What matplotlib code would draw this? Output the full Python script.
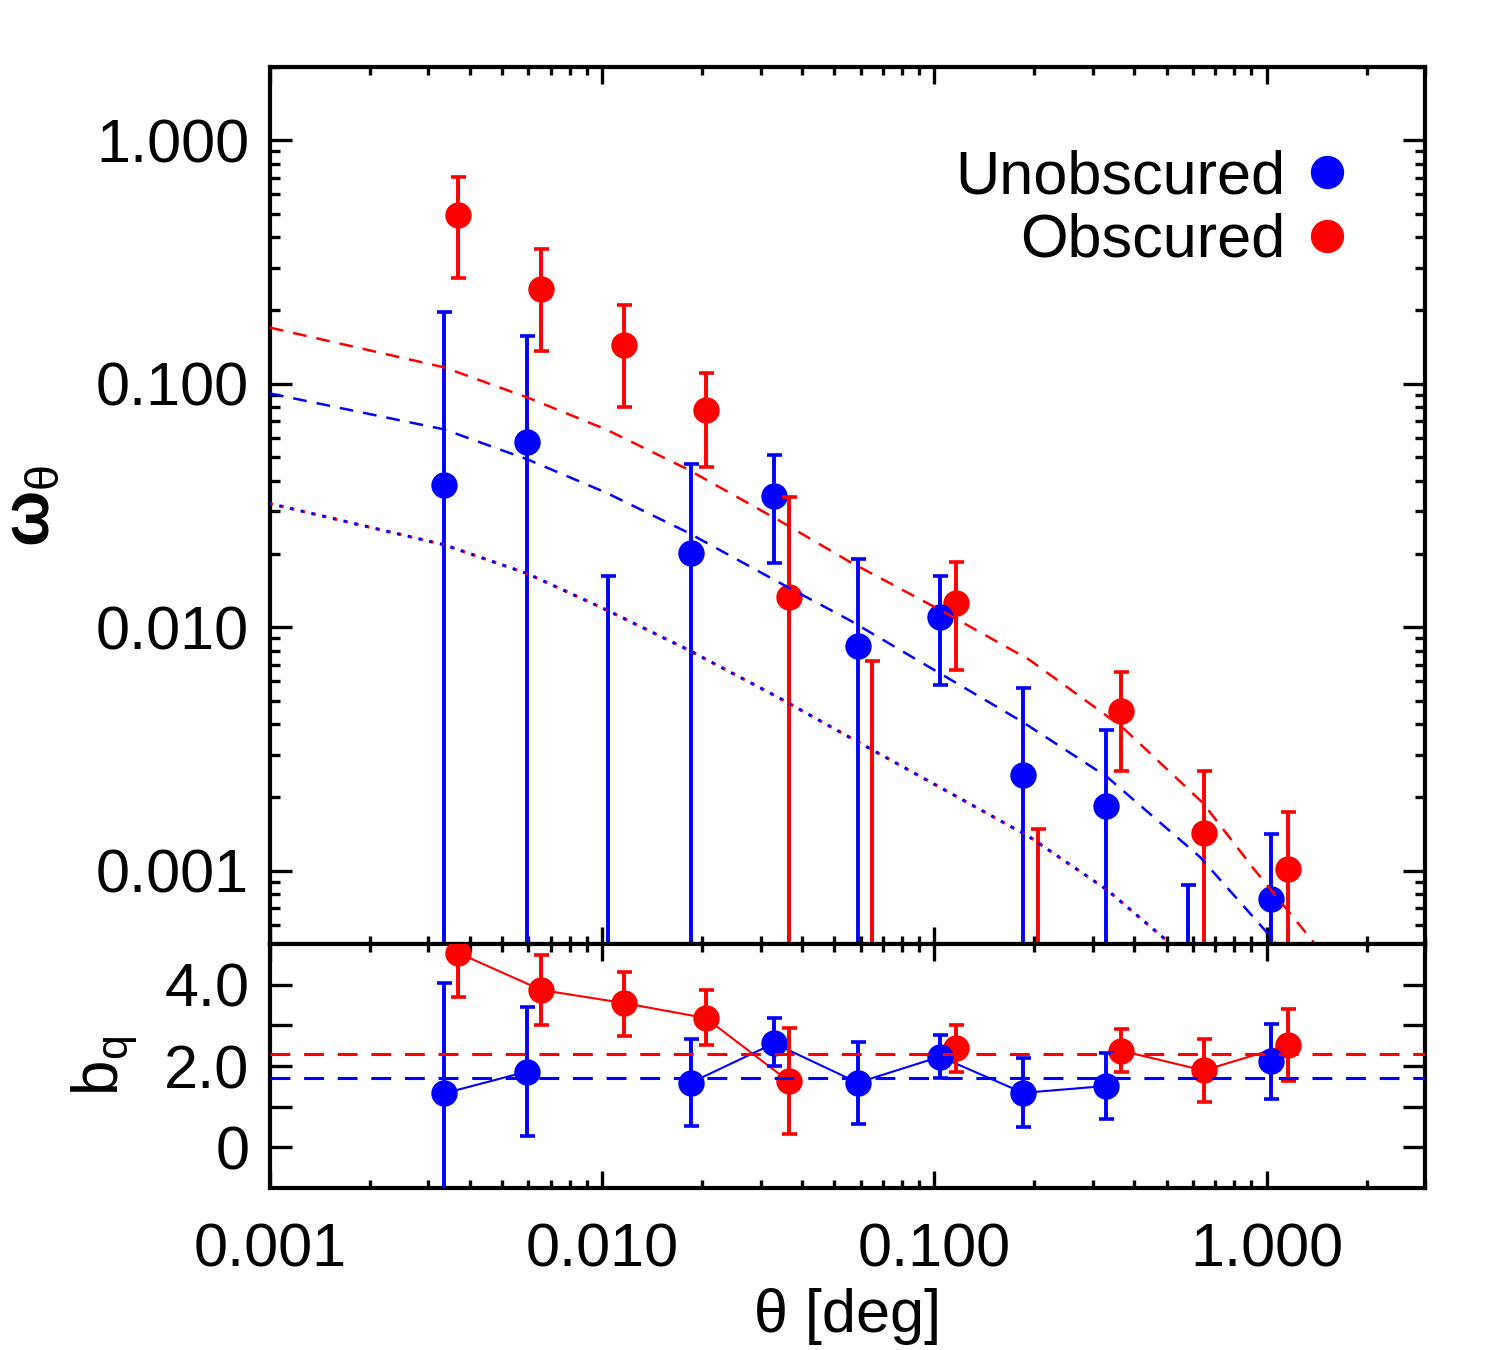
import numpy as np
import matplotlib
matplotlib.use('Agg')
import matplotlib.pyplot as plt
from matplotlib.lines import Line2D
from matplotlib.ticker import FixedLocator, FixedFormatter, LogLocator, NullFormatter

plt.rcParams['font.family'] = ['Liberation Sans', 'DejaVu Sans']
plt.rcParams['mathtext.fontset'] = 'custom'
plt.rcParams['mathtext.rm'] = 'Liberation Sans'
plt.rcParams['mathtext.it'] = 'Liberation Sans'
plt.rcParams['mathtext.bf'] = 'Liberation Sans:bold'

OFF = 1e-5  # lower error below the plotted range
nan = np.nan

# angular bins [deg]
theta_unobs = [0.00335, 0.00592, 0.0104, 0.0185, 0.0329, 0.0588, 0.104, 0.185, 0.329, 0.580, 1.03]
theta_obs = [0.00369, 0.00656, 0.0116, 0.0205, 0.0364, 0.0647, 0.116, 0.205, 0.364, 0.647, 1.16]

# w(theta), nan where the bin is negative (only the error bar shows)
w_unobs = [0.0385, 0.0579, nan, 0.0201, 0.0347, 0.00841, 0.0110, 0.00248, 0.00185, nan, 0.000767]
w_unobs_lo = [OFF, OFF, OFF, OFF, 0.0184, OFF, 0.00578, OFF, OFF, OFF, OFF]
w_unobs_hi = [0.197, 0.157, 0.0162, 0.0470, 0.0508, 0.0191, 0.0163, 0.00564, 0.00380, 0.000877, 0.00142]

w_obs = [0.491, 0.246, 0.144, 0.0783, 0.0133, nan, 0.0126, nan, 0.00455, 0.00143, 0.00102]
w_obs_lo = [0.273, 0.136, 0.080, 0.0454, OFF, OFF, 0.00666, OFF, 0.00258, OFF, OFF]
w_obs_hi = [0.709, 0.356, 0.210, 0.111, 0.0343, 0.00730, 0.0185, 0.00149, 0.00653, 0.00258, 0.00174]

# bias per bin
b_unobs = [1.33, 1.86, nan, 1.59, 2.56, 1.59, 2.23, 1.34, 1.51, nan, 2.13]
b_unobs_lo = [-1.5, 0.29, nan, 0.53, 1.99, 0.57, 1.71, 0.49, 0.70, nan, 1.19]
b_unobs_hi = [4.05, 3.45, nan, 2.66, 3.18, 2.59, 2.77, 2.19, 2.32, nan, 3.03]

b_obs = [4.78, 3.87, 3.55, 3.18, 1.63, nan, 2.44, nan, 2.38, 1.89, 2.52]
b_obs_lo = [3.69, 3.00, 2.74, 2.52, 0.34, nan, 1.86, nan, 1.86, 1.12, 1.63]
b_obs_hi = [5.8, 4.73, 4.31, 3.86, 2.93, nan, 3.01, nan, 2.91, 2.66, 3.41]

b_fit_unobs = 1.70
b_fit_obs = 2.30

# model curves
dm_theta = [0.001, 0.00335, 0.00596, 0.01028, 0.0181, 0.0340, 0.0552, 0.193, 0.331, 0.498, 0.70]
dm_w = [0.0322, 0.0218, 0.0166, 0.0118, 0.00809, 0.00514, 0.00355, 0.00138, 0.000835, 0.00052, 0.00033]

fit_unobs_theta = [0.001, 0.00335, 0.00596, 0.01028, 0.0181, 0.0340, 0.0555, 0.184, 0.331, 0.630, 1.05, 1.3]
fit_unobs_w = [0.0912, 0.0649, 0.0489, 0.0357, 0.0245, 0.0153, 0.0107, 0.00409, 0.00243, 0.00114, 0.00052, 0.0003]

fit_obs_theta = [0.001, 0.00335, 0.00596, 0.01028, 0.0181, 0.0340, 0.0555, 0.105, 0.193, 0.367, 0.643, 0.920, 1.39, 1.7]
fit_obs_w = [0.170, 0.1167, 0.0878, 0.0649, 0.0445, 0.0275, 0.0186, 0.0117, 0.00736, 0.00390, 0.00190, 0.00101, 0.000506, 0.0003]

BLUE = '#0000ff'
RED = '#ff0000'
fs = 44

fig = plt.figure(figsize=(15, 13.5), dpi=100)
ax = fig.add_axes([0.18, 0.3007, 0.77, 0.6497])
axb = fig.add_axes([0.18, 0.12, 0.77, 0.1807], sharex=ax)


def bars(a, x, lo, hi, color):
    x = np.array(x); lo = np.array(lo); hi = np.array(hi)
    ok = ~np.isnan(hi)
    a.errorbar(x[ok], hi[ok], yerr=[hi[ok] - lo[ok], np.zeros(ok.sum())], fmt='none',
               ecolor=color, elinewidth=2.8, capsize=5.4, capthick=2.6, zorder=5)


# --- top panel
for th, w, lo, hi, c, z in [(theta_obs, w_obs, w_obs_lo, w_obs_hi, RED, 3),
                            (theta_unobs, w_unobs, w_unobs_lo, w_unobs_hi, BLUE, 4)]:
    ax.plot(th, w, 'o', color=c, ms=19, mec='none', zorder=z)
    bars(ax, th, lo, hi, c)

# dark matter model, red and blue drawn on top of each other
ax.plot(dm_theta, dm_w, color=RED, lw=2.2, ls=(0, (1, 2.6)), zorder=6)
ax.plot(dm_theta, dm_w, color=BLUE, lw=2.2, ls=(0.5, (1, 2.6)), zorder=6)
ax.plot(fit_unobs_theta, fit_unobs_w, color=BLUE, lw=1.8, ls=(0, (5.5, 4)), zorder=6)
ax.plot(fit_obs_theta, fit_obs_w, color=RED, lw=1.8, ls=(0, (5.5, 4)), zorder=6)

ax.set_xscale('log')
ax.set_yscale('log')
ax.set_xlim(0.001, 3.0)
ax.set_ylim(5e-4, 2.0)
ax.yaxis.set_major_locator(FixedLocator([0.001, 0.01, 0.1, 1.0]))
ax.yaxis.set_major_formatter(FixedFormatter(['0.001', '0.010', '0.100', '1.000']))
ax.yaxis.set_minor_locator(LogLocator(base=10, subs=np.arange(2, 10), numticks=20))
ax.yaxis.set_minor_formatter(NullFormatter())
ax.set_ylabel(r'$\mathbf{\omega}_{\theta}$', fontsize=48)
ax.yaxis.set_label_coords(-0.18, 0.5)

handles = [Line2D([], [], ls='none', marker='o', ms=24, color=BLUE, mec='none'),
           Line2D([], [], ls='none', marker='o', ms=24, color=RED, mec='none')]
ax.legend(handles, ['Unobscured', 'Obscured'], loc='upper right', bbox_to_anchor=(0.9307, 0.9055),
          frameon=False, fontsize=44, markerfirst=False, handlelength=0.6, handletextpad=0.38,
          labelspacing=0.1, borderpad=0, borderaxespad=0)

# --- bottom panel
for th, b, lo, hi, c, z in [(theta_obs, b_obs, b_obs_lo, b_obs_hi, RED, 3),
                            (theta_unobs, b_unobs, b_unobs_lo, b_unobs_hi, BLUE, 4)]:
    axb.plot(th, b, '-', color=c, lw=1.5, zorder=z)
    axb.plot(th, b, 'o', color=c, ms=19, mec='none', zorder=z)
    bars(axb, th, lo, hi, c)

axb.axhline(b_fit_obs, color=RED, lw=2.2, ls=(0, (6.5, 4.5)), zorder=6)
axb.axhline(b_fit_unobs, color=BLUE, lw=2.2, ls=(0, (6.5, 4.5)), zorder=6)

axb.set_ylim(-1, 5)
axb.yaxis.set_major_locator(FixedLocator([0, 1, 2, 3, 4]))
axb.yaxis.set_major_formatter(FixedFormatter(['0', '', '2.0', '', '4.0']))
axb.xaxis.set_major_locator(FixedLocator([0.001, 0.01, 0.1, 1.0]))
axb.xaxis.set_major_formatter(FixedFormatter(['0.001', '0.010', '0.100', '1.000']))
axb.xaxis.set_minor_locator(LogLocator(base=10, subs=np.arange(2, 10), numticks=20))
axb.xaxis.set_minor_formatter(NullFormatter())
axb.set_xlabel(r'θ [deg]', fontsize=44)
axb.xaxis.set_label_coords(0.5, -0.41)
axb.set_ylabel(r'$\mathrm{b_q}$', fontsize=46)
axb.yaxis.set_label_coords(-0.1126, 0.5)

for a in (ax, axb):
    for s in a.spines.values():
        s.set_linewidth(3)
    a.tick_params(which='both', direction='in', top=True, right=True, width=2.4,
                  labelsize=fs, colors='black')
    a.tick_params(axis='x', which='major', length=12, pad=25)
    a.tick_params(axis='x', which='minor', length=6)
    a.tick_params(axis='y', which='major', length=16, pad=15)
    a.tick_params(axis='y', which='minor', length=7.5)
ax.tick_params(axis='x', labelbottom=False)

fig.savefig('out.png', dpi=100)
